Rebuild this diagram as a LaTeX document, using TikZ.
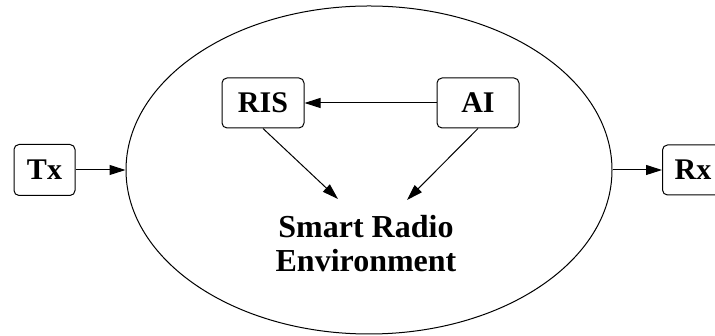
\documentclass[tikz,border=0pt]{standalone}
\usepackage{fontspec}
\setmainfont{Liberation Serif}
\usetikzlibrary{arrows.meta, positioning, shapes.geometric}

\begin{document}
\begin{tikzpicture}[x=1pt, y=1pt, >={Triangle[length=16pt, width=10pt]}, line width=1pt,
  blok/.style={draw, rounded corners=5pt, minimum width=82pt, minimum height=50pt, inner sep=0pt, font=\fontsize{30}{34}\selectfont\bfseries}]
  \useasboundingbox (0,0) rectangle (715,336);

  % Prostredi
  \node[draw, ellipse, minimum width=486pt, minimum height=328pt, inner sep=0pt] (env) at (369,166) {};
  \node[font=\fontsize{32}{34}\selectfont\bfseries, align=center] (sre) at (366,92) {Smart Radio\\Environment};

  % Bloky
  \node[blok, minimum width=61pt, minimum height=51pt] (tx) at (44.5,166) {Tx};
  \node[blok, minimum width=61pt, minimum height=50pt] (rx) at (693,166) {Rx};
  \node[blok] (ris) at (263,233) {RIS};
  \node[blok] (ai) at (478,233) {AI};

  % Konce sipek
  \coordinate (risend) at (338,137);
  \coordinate (aiend) at (407,136);

  % Sipky
  \draw[->] (tx.east) -- (env.west);
  \draw[->] (env.east) -- (rx.west);
  \draw[->] (ai.west) -- (ris.east);
  \draw[->] (ris.south) -- (risend);
  \draw[->] (ai.south) -- (aiend);
\end{tikzpicture}
\end{document}
